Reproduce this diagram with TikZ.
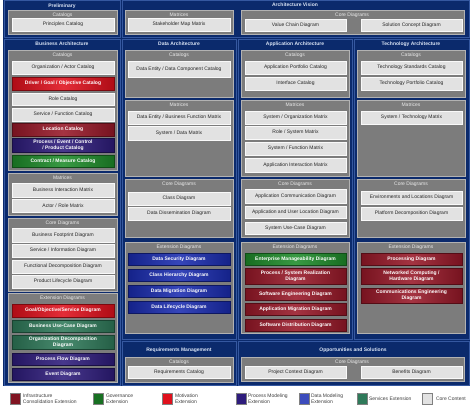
\documentclass[tikz,border=0pt]{standalone}
\usepackage{fontspec}
\setmainfont{Liberation Sans}
\usetikzlibrary{calc}
\definecolor{navy}{HTML}{0B2A6C}
\definecolor{navyline}{HTML}{3558A0}
\definecolor{panelgray}{HTML}{7C7C7C}
\definecolor{corebox}{HTML}{E2E2E2}
\definecolor{motiv}{HTML}{E0101C}
\definecolor{infra}{HTML}{981828}
\definecolor{procm}{HTML}{2E1C7C}
\definecolor{datam}{HTML}{1A2CB0}
\definecolor{gov}{HTML}{1E8C2A}
\definecolor{serv}{HTML}{2F7A5A}
\definecolor{headtxt}{HTML}{DCE6F6}
\newcommand\myfs{\fontsize{5}{5.8}\selectfont}
\newcommand\bx[7]{\node[#6, anchor=north west, minimum width={#4pt-#2pt}, minimum height={#5pt-#3pt}] (#1) at (#2,#3) {#7};}
\newcommand\pnl[6]{\node[panelbox, anchor=north west, minimum width={#4pt-#2pt}, minimum height={#5pt-#3pt}] (#1) at (#2,#3) {};
  \node[plabel, anchor=north] (#1l) at ($(#1.north)+(0,2.6)$) {#6};}
\tikzset{
  x=1pt, y=-1pt,
  base/.style={inner sep=0pt, outer sep=0pt, align=center, font=\myfs},
  region/.style={draw=navyline, line width=0.7pt, fill=navy},
  panelbox/.style={base, fill=panelgray, draw=gray!60, line width=0.4pt},
  plabel/.style={base, text=gray!15},
  head/.style={base, font=\myfs\bfseries, text=headtxt},
  wbox/.style={base, fill=corebox, draw=white!80!corebox, line width=0.3pt, text=black!85},
  ext/.style={base, draw=#1!55!black, line width=0.3pt, left color=#1!78!black, right color=#1!78!black, middle color=#1!88!white, text=white, font=\myfs\bfseries},
  legsq/.style={base, draw=black!50, line width=0.3pt, fill=#1, minimum width=10pt, minimum height=11pt, anchor=north west},
  legtxt/.style={base, anchor=west, align=left, text=black!75},
}
\begin{document}
\begin{tikzpicture}
\useasboundingbox[fill=white] (0,0) rectangle (474,408);
% background regions
\fill[navy] (3,0) rectangle (470,386);
\draw[region] (4,0.5) rectangle (120,37);
\draw[region] (122,0.5) rectangle (469,37);
\draw[region] (4,39) rectangle (120,385);
\draw[region] (122,39) rectangle (236,339);
\draw[region] (238,39) rectangle (352,339);
\draw[region] (354,39) rectangle (469,339);
\draw[region] (122,341) rectangle (236,385);
\draw[region] (238,341) rectangle (469,385);
% headers
\node[head] (hPre) at (62,6) {Preliminary};
\node[head] (hVis) at (295,5) {Architecture Vision};
\node[head] (hBus) at (62,44) {Business Architecture};
\node[head] (hDat) at (179,44) {Data Architecture};
\node[head] (hApp) at (295,44) {Application Architecture};
\node[head] (hTec) at (411,44) {Technology Architecture};
\node[head] (hReq) at (179,350) {Requirements Management};
\node[head] (hOpp) at (353,350) {Opportunities and Solutions};
% Preliminary
\pnl{pPreCat}{8}{10}{117}{34}{Catalogs}
\bx{bPrinc}{12}{18}{114}{31}{wbox}{Principles Catalog}
% Architecture Vision
\pnl{pVisMat}{125}{10}{233}{34}{Matrices}
\bx{bStake}{128}{18}{230}{31}{wbox}{Stakeholder Map Matrix}
\node[panelbox, anchor=north west, minimum width=223pt, minimum height=24pt] (pVisCore) at (241,10) {};
\bx{bValue}{245}{19}{346}{31}{wbox}{Value Chain Diagram}
\bx{bSol}{361}{19}{462}{31}{wbox}{Solution Concept Diagram}
\node[plabel] (pVisCorel) at (352,15) {Core Diagrams};
% Business Architecture
\pnl{pBusCat}{8}{50}{117}{170}{Catalogs}
\bx{bOrg}{12}{61}{114}{74}{wbox}{Organization / Actor Catalog}
\bx{bDriver}{12}{77}{114}{90}{ext=motiv}{Driver / Goal / Objective Catalog}
\bx{bRole}{12}{93}{114}{105}{wbox}{Role Catalog}
\bx{bServ}{12}{108}{114}{121}{wbox}{Service / Function Catalog}
\bx{bLoc}{12}{123}{114}{136}{ext=infra}{Location Catalog}
\bx{bProc}{12}{138}{114}{152}{ext=procm}{Process / Event / Control\\/ Product Catalog}
\bx{bContr}{12}{155}{114}{167}{ext=gov}{Contract / Measure Catalog}
\pnl{pBusMat}{8}{173}{117}{215}{Matrices}
\bx{bBIM}{12}{183}{114}{197}{wbox}{Business Interaction Matrix}
\bx{bARM}{12}{199}{114}{212}{wbox}{Actor / Role Matrix}
\pnl{pBusCore}{8}{218}{117}{291}{Core Diagrams}
\bx{bFoot}{12}{228}{114}{242}{wbox}{Business Footprint Diagram}
\bx{bSInf}{12}{244}{114}{257}{wbox}{Service / Information Diagram}
\bx{bFunc}{12}{260}{114}{273}{wbox}{Functional Decomposition Diagram}
\bx{bProd}{12}{275}{114}{288}{wbox}{Product Lifecycle Diagram}
\pnl{pBusExt}{8}{293}{117}{382}{Extension Diagrams}
\bx{bGoal}{12}{304}{114}{317}{ext=motiv}{Goal/Objective/Service Diagram}
\bx{bBUC}{12}{320}{114}{332}{ext=serv}{Business Use-Case Diagram}
\bx{bOrgD}{12}{335}{114}{349}{ext=serv}{Organization Decomposition\\Diagram}
\bx{bPFD}{12}{353}{114}{365}{ext=procm}{Process Flow Diagram}
\bx{bEvt}{12}{368}{114}{380}{ext=procm}{Event Diagram}
% Data Architecture
\pnl{pDatCat}{125}{50}{233}{97}{Catalogs}
\bx{bDEC}{128}{61}{230}{77}{wbox}{Data Entity / Data Component Catalog}
\pnl{pDatMat}{125}{100}{233}{176}{Matrices}
\bx{bDEB}{128}{111}{230}{124}{wbox}{Data Entity / Business Function Matrix}
\bx{bSDM}{128}{126}{230}{140}{wbox}{System / Data Matrix}
\pnl{pDatCore}{125}{179}{233}{237}{Core Diagrams}
\bx{bClass}{128}{192}{230}{205}{wbox}{Class Diagram}
\bx{bDiss}{128}{207}{230}{220}{wbox}{Data Dissemination Diagram}
\pnl{pDatExt}{125}{242}{233}{333}{Extension Diagrams}
\bx{bDSec}{128}{253}{230}{265}{ext=datam}{Data Security Diagram}
\bx{bCHier}{128}{269}{230}{281}{ext=datam}{Class Hierarchy Diagram}
\bx{bDMig}{128}{285}{230}{297}{ext=datam}{Data Migration Diagram}
\bx{bDLife}{128}{301}{230}{313}{ext=datam}{Data Lifecycle Diagram}
% Application Architecture
\pnl{pAppCat}{241}{50}{349}{97}{Catalogs}
\bx{bAPC}{245}{61}{346}{74}{wbox}{Application Portfolio Catalog}
\bx{bIfc}{245}{77}{346}{90}{wbox}{Interface Catalog}
\pnl{pAppMat}{241}{100}{349}{176}{Matrices}
\bx{bSOM}{245}{111}{346}{124}{wbox}{System / Organization Matrix}
\bx{bRSM}{245}{126}{346}{139}{wbox}{Role / System Matrix}
\bx{bSFM}{245}{142}{346}{155}{wbox}{System / Function Matrix}
\bx{bAIM}{245}{158}{346}{172}{wbox}{Application Interaction Matrix}
\pnl{pAppCore}{241}{179}{349}{237}{Core Diagrams}
\bx{bACD}{245}{189}{346}{203}{wbox}{Application Communication Diagram}
\bx{bAUL}{245}{206}{346}{218}{wbox}{Application and User Location Diagram}
\bx{bSUC}{245}{222}{346}{234}{wbox}{System Use-Case Diagram}
\pnl{pAppExt}{241}{242}{349}{333}{Extension Diagrams}
\bx{bEMD}{245}{253}{346}{265}{ext=gov}{Enterprise Manageability Diagram}
\bx{bPSR}{245}{268}{346}{284}{ext=infra}{Process / System Realization\\Diagram}
\bx{bSED}{245}{288}{346}{300}{ext=infra}{Software Engineering Diagram}
\bx{bAMD}{245}{303}{346}{315}{ext=infra}{Application Migration Diagram}
\bx{bSDD}{245}{319}{346}{331}{ext=infra}{Software Distribution Diagram}
% Technology Architecture
\pnl{pTecCat}{357}{50}{465}{97}{Catalogs}
\bx{bTSC}{361}{61}{462}{74}{wbox}{Technology Standards Catalog}
\bx{bTPC}{361}{77}{462}{90}{wbox}{Technology Portfolio Catalog}
\pnl{pTecMat}{357}{100}{465}{176}{Matrices}
\bx{bSTM}{361}{111}{462}{124}{wbox}{System / Technology Matrix}
\pnl{pTecCore}{357}{179}{465}{237}{Core Diagrams}
\bx{bELD}{361}{191}{462}{204}{wbox}{Environments and Locations Diagram}
\bx{bPDD}{361}{207}{462}{220}{wbox}{Platform Decomposition Diagram}
\pnl{pTecExt}{357}{242}{465}{333}{Extension Diagrams}
\bx{bPrcD}{361}{253}{462}{265}{ext=infra}{Processing Diagram}
\bx{bNCH}{361}{268}{462}{284}{ext=infra}{Networked Computing /\\Hardware Diagram}
\bx{bCED}{361}{288}{462}{303}{ext=infra}{Communications Engineering\\Diagram}
% Requirements Management
\pnl{pReqCat}{125}{357}{233}{382}{Catalogs}
\bx{bReqC}{128}{366}{230}{378}{wbox}{Requirements Catalog}
% Opportunities and Solutions
\node[panelbox, anchor=north west, minimum width=223pt, minimum height=24pt] (pOppCore) at (241,357) {};
\bx{bPCD}{245}{366}{346}{378}{wbox}{Project Context Diagram}
\bx{bBen}{361}{366}{462}{378}{wbox}{Benefits Diagram}
\node[plabel] (pOppCorel) at (352,362) {Core Diagrams};
% Legend
\node[legsq=infra!85!black] (lInf) at (10,393) {};
\node[legtxt] (tInf) at (23,398.5) {Infrastructure\\Consolidation Extension};
\node[legsq=gov!80!black] (lGov) at (93,393) {};
\node[legtxt] (tGov) at (106,398.5) {Governance\\Extension};
\node[legsq=motiv] (lMot) at (162,393) {};
\node[legtxt] (tMot) at (175,398.5) {Motivation\\Extension};
\node[legsq=procm] (lPrc) at (236,393) {};
\node[legtxt] (tPrc) at (248,398.5) {Process Modeling\\Extension};
\node[legsq=datam!85!white] (lDat) at (299,393) {};
\node[legtxt] (tDat) at (311,398.5) {Data Modeling\\Extension};
\node[legsq=serv] (lSrv) at (357,393) {};
\node[legtxt] (tSrv) at (369,398.5) {Services Extension};
\node[legsq=corebox] (lCore) at (422,393) {};
\node[legtxt] (tCore) at (436,398.5) {Core Content};
\end{tikzpicture}
\end{document}
